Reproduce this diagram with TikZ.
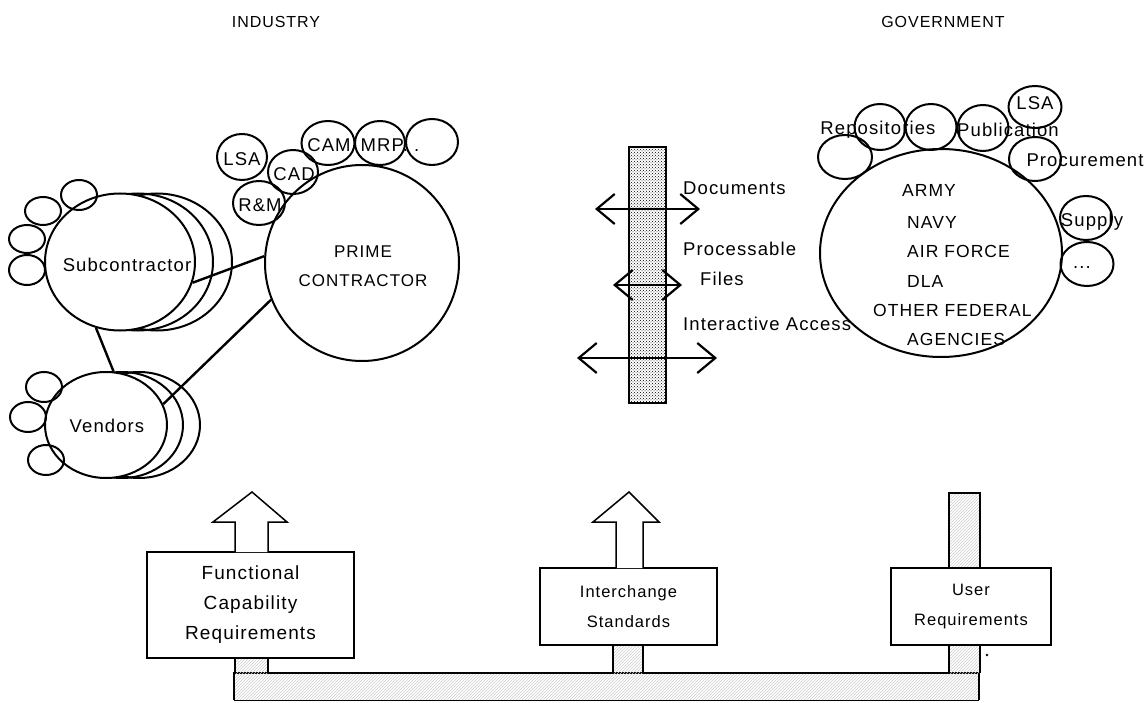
\documentclass[tikz,border=0pt]{standalone}
\usepackage{fontspec}
\setmainfont{Liberation Sans}[LetterSpace=6]
\usetikzlibrary{shapes.geometric,arrows.meta,patterns}
\begin{document}
\begin{tikzpicture}[x=1pt,y=-1pt,
  every node/.style={font=\fontsize{18.5}{30}\selectfont, inner sep=0pt},
  ell/.style 2 args={ellipse, draw, line width=2pt, minimum width=#1pt, minimum height=#2pt},
  wfill/.style={fill=white},
  head/.style={font=\fontsize{16}{18}\selectfont},
  govt/.style={anchor=west, font=\fontsize{17.5}{20}\selectfont},
  box/.style={draw, line width=1.5pt, fill=white, align=center},
  hatch/.style={pattern=north east lines, pattern color=gray!40},
  dbl/.style={line width=2.2pt, {Straight Barb[length=18pt,width=30pt]}-{Straight Barb[length=18pt,width=30pt]}},
  blk/.style={draw, line width=1.5pt, fill=white, line join=miter},
  link/.style={line width=2.4pt}
]
\useasboundingbox (0,0) rectangle (1146,703);

% headers
\node[head] (hind) at (276,22) {INDUSTRY};
\node[head] (hgov) at (943,22) {GOVERNMENT};

% ---------- Subcontractor ----------
\node[ell={150}{137}] (subb2) at (157,262) {};
\node[ell={150}{137}] (subb1) at (138,262) {};
\node[ell={150}{137}, wfill] (sub) at (120,262) {};
\node (subt) at (127,265) {Subcontractor};
\node[ell={36}{30}] (s1) at (79,195) {};
\node[ell={36}{28}] (s2) at (43,211) {};
\node[ell={36}{28}] (s3) at (27,239) {};
\node[ell={36}{30}] (s4) at (27,270) {};

% ---------- Vendors ----------
\node[ell={122}{106}] (venb2) at (139,425) {};
\node[ell={122}{106}] (venb1) at (122,425) {};
\node[ell={122}{106}, wfill] (ven) at (106,425) {};
\node (vent) at (107,426) {Vendors};
\node[ell={36}{30}] (v1) at (44,387) {};
\node[ell={36}{30}] (v2) at (28,417) {};
\node[ell={36}{30}] (v3) at (46,460) {};

% ---------- Prime contractor ----------
\node[ell={194}{196}] (prime) at (362,263) {};
\node[align=center, font=\fontsize{17}{29}\selectfont] (primet) at (363,266) {PRIME\\CONTRACTOR};
\node[ell={50}{46}] (pLSA) at (242,157) {};
\node[ell={50}{44}] (pCAD) at (293,172) {};
\node[ell={52}{44}] (pRM) at (259,203) {};
\node[ell={53}{44}] (pCAM) at (328,143) {};
\node[ell={50}{44}] (pMRP) at (380,143) {};
\node[ell={52}{46}] (pE) at (432,142) {};
\node (tLSA) at (242,159) {LSA};
\node (tCAD) at (294,174) {CAD};
\node (tRM) at (260,205) {R\&M};
\node (tCAM) at (329,145) {CAM};
\node (tMRP) at (390,145) {MRP. .};

% connectors
\draw[link] (sub.-16) -- (prime.176);
\draw[link] (ven.20) -- (prime.202);
\draw[link] (sub.-110) -- (ven.82);

% ---------- central bar ----------
\node[draw, line width=2pt, pattern=crosshatch dots, pattern color=black, minimum width=37pt, minimum height=256pt] (cbar) at (647.5,275) {};
\coordinate (a1l) at (595,209); \coordinate (a1r) at (700,209);
\coordinate (a2l) at (613,285); \coordinate (a2r) at (682,285);
\coordinate (a3l) at (577,358); \coordinate (a3r) at (717,358);
\draw[dbl] (a1l) -- (a1r);
\draw[dbl] (a2l) -- (a2r);
\draw[dbl] (a3l) -- (a3r);
\node[anchor=west] (tdoc) at (683,188) {Documents};
\node[anchor=west] (tproc) at (683,249) {Processable};
\node[anchor=west] (tfiles) at (700,279) {Files};
\node[anchor=west] (tia) at (683,324) {Interactive Access};

% ---------- Government ----------
\node[ell={242}{208}] (gov) at (941,253) {};
\node[ell={54}{44}] (g1) at (845,157) {};
\node[ell={51}{46}] (g2) at (880,127) {};
\node[ell={51}{46}] (g3) at (931,127) {};
\node[ell={51}{46}] (g4) at (983,128) {};
\node[ell={53}{42}] (g5) at (1035,107) {};
\node[ell={52}{44}] (g6) at (1035,159) {};
\node[ell={52}{44}] (g7) at (1086,218) {};
\node[ell={53}{44}] (g8) at (1087,264) {};
\node (tRep) at (878,130) {Repositories};
\node (tPub) at (1008,130) {Publication};
\node (tgLSA) at (1035,103) {LSA};
\node (tProc) at (1085,160) {Procurement};
\node (tSup) at (1092,222) {Supply};
\node (tDots) at (1082,268) {...};
\node[govt] (tArmy) at (902,190) {ARMY};
\node[govt] (tNavy) at (907,222) {NAVY};
\node[govt] (tAF) at (907,251) {AIR FORCE};
\node[govt] (tDLA) at (907,281) {DLA};
\node[govt] (tOF) at (873,310) {OTHER FEDERAL};
\node[govt] (tAg) at (907,339) {AGENCIES};

% ---------- bottom ----------
\path[hatch] (234,673) rectangle (979,700);
\draw[line width=1.5pt] (234,700) -- (234,673) -- (979,673) -- (979,700);
\draw[line width=1pt] (234,700) -- (979,700);
\path[hatch] (235,658) rectangle (268,673);
\draw[line width=1.5pt] (235,673) -- (235,658) (268,658) -- (268,673);
\path[hatch] (613,645) rectangle (643,673);
\draw[line width=1.5pt] (613,673) -- (613,645) (643,645) -- (643,673);
\path[hatch] (949,493) rectangle (980,673);
\draw[line width=1.5pt] (949,673) -- (949,493) -- (980,493) -- (980,673);

\node[box, font=\fontsize{19}{30}\selectfont, minimum width=207pt, minimum height=106pt] (b1) at (250.5,605) {Functional\\Capability\\Requirements};
\node[box, font=\fontsize{16.5}{30}\selectfont, minimum width=177pt, minimum height=77pt] (b2) at (628.5,606.5) {Interchange\\Standards};
\node[box, font=\fontsize{16.5}{30}\selectfont, minimum width=160pt, minimum height=77pt] (b3) at (971,606.5) {User\\Requirements};

\draw[blk] (235,552) -- (235,522) -- (213,522) -- (252,492) -- (287,522) -- (268,522) -- (268,552);
\draw[blk] (616,568) -- (616,522) -- (593,522) -- (629,492) -- (659,522) -- (643,522) -- (643,568);

\fill (987,655) circle (1.3pt);
\end{tikzpicture}
\end{document}
